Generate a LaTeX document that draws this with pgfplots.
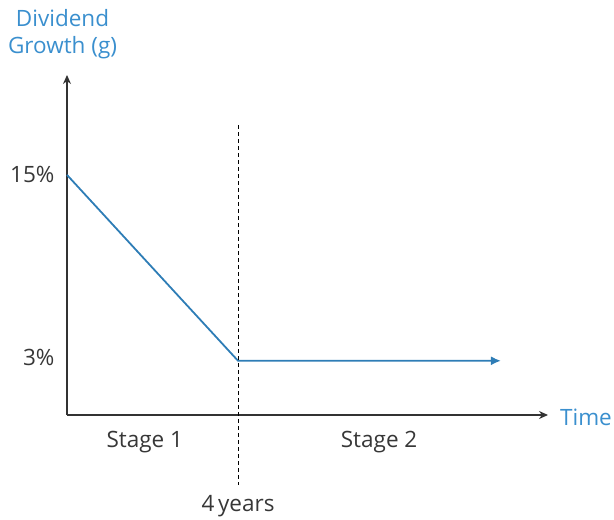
\documentclass[border=0pt]{standalone}
\usepackage{pgfplots}
\pgfplotsset{compat=1.18}
\usepackage{fontspec}
\setmainfont{Open Sans}
\usetikzlibrary{arrows.meta}
\definecolor{lineblue}{RGB}{46,125,182}
\definecolor{labelblue}{RGB}{58,143,206}
\definecolor{txt}{RGB}{55,55,55}
\newcommand{\lbl}{\fontsize{22.5bp}{27bp}\selectfont}
\begin{document}
\begin{tikzpicture}
% frame of the reference picture, axis box lower left at (0,0)
\useasboundingbox (-67bp,-105bp) rectangle (547bp,415bp);
\begin{axis}[
  at={(0,0)}, anchor=south west,
  scale only axis,
  width=481bp, height=340bp,
  axis lines=left,
  axis line style={line width=1.3bp, black!80, -{Stealth[length=9bp,width=8bp]}},
  xmin=0, xmax=11.25, ymin=-0.5, ymax=21.45,
  xtick=\empty,
  ytick={3,15}, yticklabels={\raisebox{6bp}{3\%},15\%},
  major tick length=0,
  yticklabel style={font=\lbl, text=txt, xshift=-9bp},
  clip=false,
]
\addplot[lineblue, line width=1.8bp, line join=round, -{Latex[length=10bp,width=9bp]}]
  coordinates {(0,15) (4,3) (10.15,3)};
\addplot[black, line width=1bp, dash pattern=on 4bp off 3bp]
  coordinates {(4,18.2) (4,-5)};
\node[font=\lbl, text=txt, anchor=base] at (axis cs:1.82,-2.57) {Stage 1};
\node[font=\lbl, text=txt, anchor=base] at (axis cs:7.30,-2.57) {Stage 2};
\node[font=\lbl, text=txt, anchor=base] at (axis cs:4,-6.76) {4\,years};
\node[font=\lbl, text=labelblue, anchor=base west, inner sep=0pt] at (axis cs:11.53,-1.15) {Time};
\node[font=\lbl, text=labelblue, anchor=base, inner sep=0pt] at (axis cs:-0.105,24.61) {Dividend};
\node[font=\lbl, text=labelblue, anchor=base, inner sep=0pt] at (axis cs:-0.105,22.87) {Growth (g)};
\end{axis}
\end{tikzpicture}
\end{document}
